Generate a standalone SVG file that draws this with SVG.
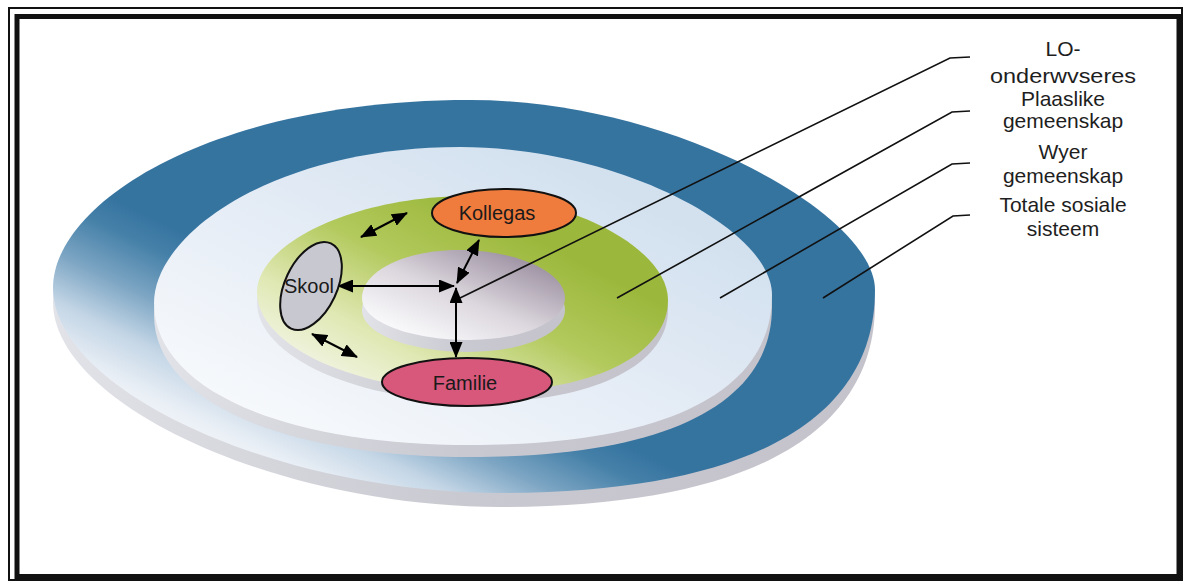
<svg xmlns="http://www.w3.org/2000/svg" xmlns:xlink="http://www.w3.org/1999/xlink" width="1185" height="584" viewBox="0 0 1185 584">
  <style>
    .lbl { font-family: "Liberation Sans", Arial, sans-serif; font-size: 21px; fill: #1e1e1e; text-anchor: middle; }
    .node-text { font-family: "Liberation Sans", Arial, sans-serif; font-size: 20px; fill: #1a1a1a; text-anchor: middle; }
    .node-shape { stroke: #111; stroke-width: 2; }
    .arrow { stroke: #000; stroke-width: 2; fill: none; marker-start: url(#head); marker-end: url(#head); }
    .leader { stroke: #111; stroke-width: 1.6; fill: none; }
  </style>
  <defs>
    <marker id="head" viewBox="0 0 16 13" markerWidth="16" markerHeight="13" markerUnits="userSpaceOnUse" refX="15" refY="6.5" orient="auto-start-reverse">
      <path d="M0,0 L16,6.5 L0,13 Z" fill="#000"/>
    </marker>

    <!-- top faces of the four stacked discs -->
    <path id="faceOuter" d="M53,288 C53,203 211,100 470,100 C672,100 875,214 875,290 C875,422 744,493 500,493 C277,493 53,390 53,288 Z"/>
    <path id="faceWide" d="M154,303 C154,233 276,147 460,147 C616,147 772,228 772,295 C772,392 666,445 470,445 C280,445 154,388 154,303 Z"/>
    <path id="faceLocal" d="M257,292 C257,244 353,196 470,196 C569,196 668,248 668,300 C668,355 593,392 480,392 C357,392 257,347 257,292 Z"/>
    <path id="faceInner" d="M362,298 C362,271 405,250 458,250 C517,250 565,272 565,298 C565,321 523,340 470,340 C410,340 362,322 362,298 Z"/>

    <linearGradient id="gOuter" gradientUnits="userSpaceOnUse" x1="112" y1="400" x2="190.8" y2="236.1">
      <stop offset="0" stop-color="#f2f5f9"/>
      <stop offset="0.12" stop-color="#e8eef5"/>
      <stop offset="0.35" stop-color="#c4d6e6"/>
      <stop offset="0.6" stop-color="#7ca5c3"/>
      <stop offset="0.85" stop-color="#4580a8"/>
      <stop offset="1" stop-color="#3674a0"/>
    </linearGradient>
    <linearGradient id="gWide" x1="0.1" y1="0.9" x2="0.8" y2="0.2">
      <stop offset="0" stop-color="#f8fafc"/>
      <stop offset="0.5" stop-color="#e6edf6"/>
      <stop offset="1" stop-color="#d3e1ef"/>
    </linearGradient>
    <linearGradient id="gLocal" x1="0.1" y1="0.9" x2="0.75" y2="0.3">
      <stop offset="0" stop-color="#f4f6ea"/>
      <stop offset="0.3" stop-color="#e0e8b4"/>
      <stop offset="0.65" stop-color="#b2c95c"/>
      <stop offset="1" stop-color="#9cb83c"/>
    </linearGradient>
    <linearGradient id="gInner" x1="0.15" y1="0.85" x2="0.85" y2="0.1">
      <stop offset="0" stop-color="#f8f8fa"/>
      <stop offset="0.45" stop-color="#dcd7de"/>
      <stop offset="1" stop-color="#9b8fa0"/>
    </linearGradient>
    <linearGradient id="gSide" x1="0" y1="0" x2="1" y2="0">
      <stop offset="0" stop-color="#e2e3e8"/>
      <stop offset="0.5" stop-color="#c9c9d1"/>
      <stop offset="1" stop-color="#c4c2ca"/>
    </linearGradient>
  </defs>

  <rect width="1185" height="584" fill="#ffffff"/>

  <!-- double frame -->
  <rect x="9" y="8" width="1173" height="572" fill="none" stroke="#111" stroke-width="2"/>
  <rect x="17" y="16.5" width="1162" height="560" fill="none" stroke="#111" stroke-width="5"/>

  <!-- Totale sosiale sisteem -->
  <g id="disc-totale">
    <use xlink:href="#faceOuter" transform="translate(0,14)" fill="url(#gSide)"/>
    <use xlink:href="#faceOuter" fill="url(#gOuter)"/>
  </g>
  <!-- Wyer gemeenskap -->
  <g id="disc-wyer">
    <use xlink:href="#faceWide" transform="translate(0,12)" fill="url(#gSide)"/>
    <use xlink:href="#faceWide" fill="url(#gWide)"/>
  </g>
  <!-- Plaaslike gemeenskap -->
  <g id="disc-plaaslik">
    <use xlink:href="#faceLocal" transform="translate(0,10)" fill="url(#gSide)"/>
    <use xlink:href="#faceLocal" fill="url(#gLocal)"/>
  </g>
  <!-- LO-onderwyseres -->
  <g id="disc-lo">
    <use xlink:href="#faceInner" transform="translate(0,12)" fill="url(#gSide)"/>
    <use xlink:href="#faceInner" fill="url(#gInner)"/>
  </g>

  <g id="connectors">
    <!-- leaders to the legend -->
    <polyline class="leader" points="460,298 950,58 970,57"/>
    <polyline class="leader" points="617,298 952,112 970,111"/>
    <polyline class="leader" points="720,298 952,164 970,163"/>
    <polyline class="leader" points="823,298 953,216 970,215"/>
    <!-- relations -->
    <line class="arrow" x1="338" y1="286" x2="454" y2="286"/>
    <line class="arrow" x1="456" y1="288" x2="456" y2="357"/>
    <line class="arrow" x1="457" y1="283" x2="479" y2="240"/>
    <line class="arrow" x1="361" y1="237" x2="407" y2="213"/>
    <line class="arrow" x1="312" y1="334" x2="357" y2="357"/>
  </g>

  <g id="kollegas">
    <ellipse class="node-shape" cx="504" cy="213" rx="72" ry="24" fill="#ef7b3c"/>
    <text class="node-text" x="497" y="220">Kollegas</text>
  </g>
  <g id="skool">
    <ellipse class="node-shape" cx="311" cy="286" rx="26" ry="47" transform="rotate(25 311 286)" fill="#c8c8d0"/>
    <text class="node-text" x="309" y="293">Skool</text>
  </g>
  <g id="familie">
    <ellipse class="node-shape" cx="467" cy="382" rx="85" ry="24" fill="#d8587b"/>
    <text class="node-text" x="465" y="390">Familie</text>
  </g>

  <g id="legend">
    <text class="lbl" x="1063" y="56">LO-</text>
    <text class="lbl" x="1063" y="83" textLength="146" lengthAdjust="spacingAndGlyphs">onderwvseres</text>
    <text class="lbl" x="1063" y="106">Plaaslike</text>
    <text class="lbl" x="1063" y="128">gemeenskap</text>
    <text class="lbl" x="1063" y="159">Wyer</text>
    <text class="lbl" x="1063" y="183">gemeenskap</text>
    <text class="lbl" x="1063" y="212">Totale sosiale</text>
    <text class="lbl" x="1063" y="236">sisteem</text>
  </g>
</svg>
